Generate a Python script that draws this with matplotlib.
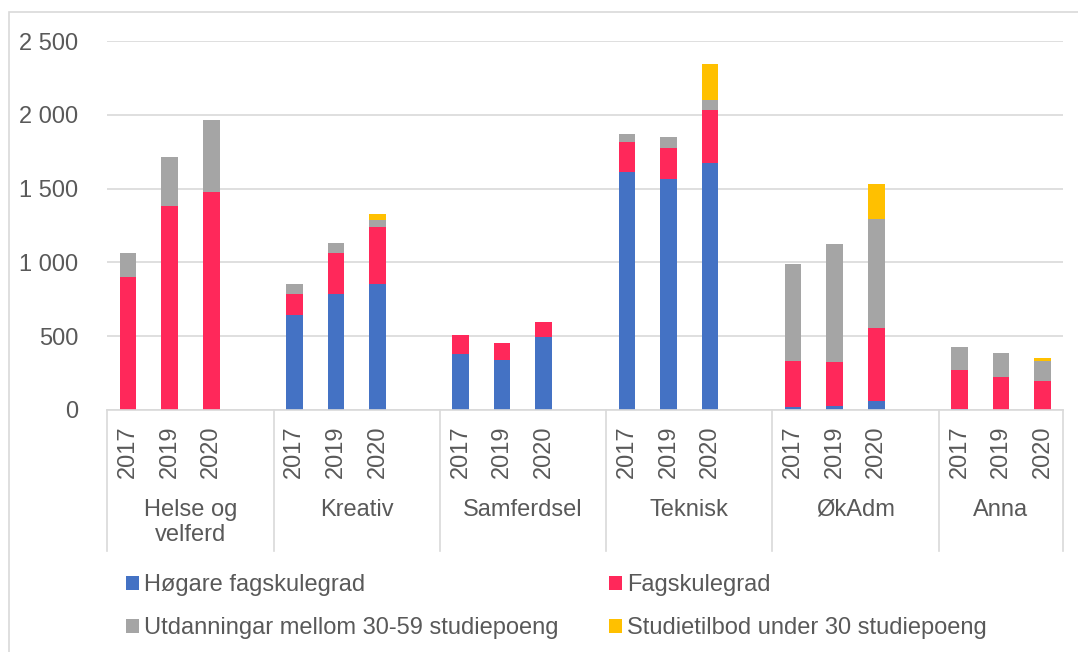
import matplotlib.pyplot as plt
import numpy as np
from matplotlib.ticker import FuncFormatter
from matplotlib.patches import Rectangle
from matplotlib.transforms import blended_transform_factory

plt.rcParams['font.family'] = ['Liberation Sans', 'DejaVu Sans']

groups = ['Helse og\nvelferd', 'Kreativ', 'Samferdsel', 'Teknisk', 'ØkAdm', 'Anna']
years = ['2017', '2019', '2020']

# values per group, per year (2017, 2019, 2020)
hogare = [0, 0, 0, 644, 784, 855, 377, 339, 495, 1615, 1565, 1676, 20, 27, 63, 8, 0, 0]
fagskule = [900, 1381, 1476, 140, 279, 382, 134, 115, 99, 200, 212, 354, 310, 296, 491, 265, 224, 199]
utdanning = [165, 333, 487, 68, 70, 50, 0, 0, 0, 55, 70, 70, 660, 805, 739, 152, 163, 131]
studietilbod = [0, 0, 0, 0, 0, 38, 0, 0, 0, 0, 0, 247, 0, 0, 235, 0, 0, 25]

names = ['Høgare fagskulegrad', 'Fagskulegrad',
         'Utdanningar mellom 30-59 studiepoeng', 'Studietilbod under 30 studiepoeng']
colors = ['#4472C4', '#FF285A', '#A5A5A5', '#FFC000']
txt = '#595959'
grid = '#d9d9d9'
fs = 17

# one empty slot between groups
x = [g * 4 + i for g in range(len(groups)) for i in range(len(years))]

fig = plt.figure(figsize=(10.78, 6.52), dpi=100)
ax = fig.add_axes([107.3 / 1078, 1 - 410 / 652, (1063.3 - 107.3) / 1078, 369 / 652])

bottom = np.zeros(len(x))
for vals, name, col in zip([hogare, fagskule, utdanning, studietilbod], names, colors):
    ax.bar(x, vals, 0.4, bottom=bottom, color=col, label=name, linewidth=0)
    bottom += np.array(vals)

ax.set_xlim(-0.5, 22.5)
ax.set_ylim(0, 2500)
ax.set_yticks(range(0, 2501, 500))
ax.yaxis.set_major_formatter(FuncFormatter(lambda v, p: f'{int(v):,}'.replace(',', ' ')))
ax.tick_params(axis='y', length=0, pad=21, labelsize=fs, labelcolor=txt)
ax.set_xticks([])
ax.grid(axis='y', color=grid, lw=1.2)
ax.set_axisbelow(True)
for s in ['top', 'right', 'left']:
    ax.spines[s].set_visible(False)
ax.spines['bottom'].set_color(grid)
ax.spines['bottom'].set_linewidth(1.2)

trans = blended_transform_factory(ax.transData, ax.transAxes)
h = 369.0
for xi, yr in zip(x, years * len(groups)):
    ax.text(xi, -15 / h, yr, rotation=90, ha='center', va='top', transform=trans,
            fontsize=fs, color=txt)

edges = [-0.5, 3.5, 7.5, 11.5, 15.5, 19.5, 22.5]
for i, g in enumerate(groups):
    cx = (edges[i] + edges[i + 1]) / 2
    ax.text(cx, -89 / h, g, ha='center', va='top', transform=trans,
            fontsize=fs, color=txt, linespacing=1.2)
for xd in edges:
    ax.plot([xd, xd], [0, -141 / h], transform=trans, clip_on=False, color=grid, lw=1.2)

handles, labels = ax.get_legend_handles_labels()
order = [0, 2, 1, 3]
fig.legend([handles[i] for i in order], [labels[i] for i in order], ncol=2,
           loc='upper left', bbox_to_anchor=(126 / 1078, 1 - 574 / 652),
           frameon=False, fontsize=fs, labelcolor=txt,
           handlelength=0.55, handleheight=0.55, handletextpad=0.2,
           columnspacing=2.15, labelspacing=0.9, borderpad=0, borderaxespad=0)

fig.patches.append(Rectangle((9 / 1078, -0.05), 1.1, 1 - 12 / 652 + 0.05,
                             transform=fig.transFigure, fill=False, ec=grid, lw=1.2))

fig.savefig('out.png', dpi=100)
